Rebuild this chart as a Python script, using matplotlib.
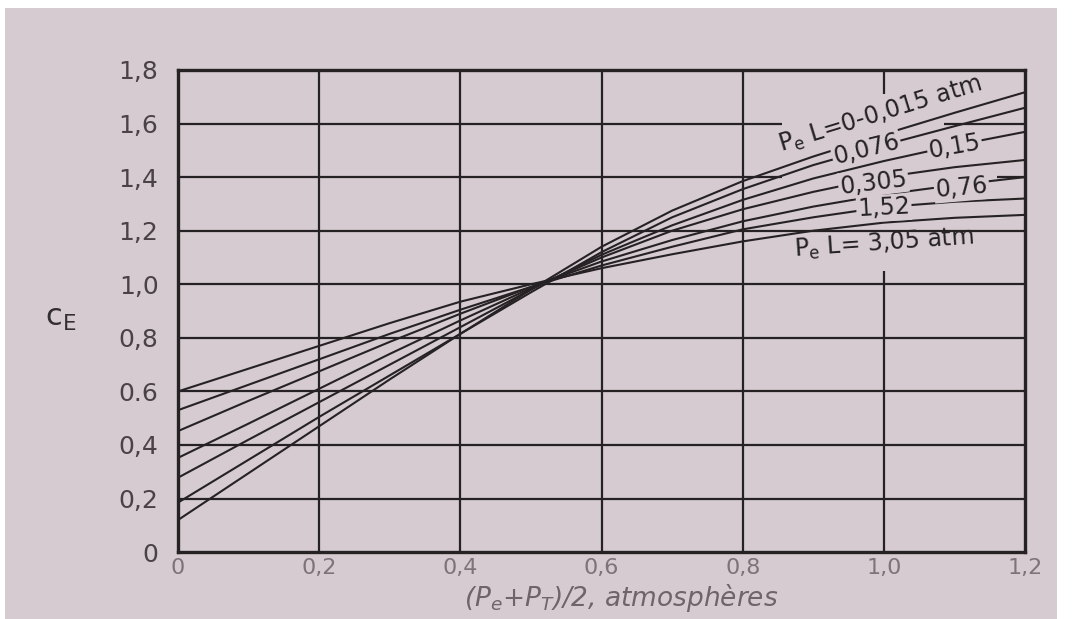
import matplotlib
matplotlib.use("Agg")
import matplotlib.pyplot as plt
from matplotlib.patches import Rectangle

# Mean pressure (P_e + P_T)/2, atm
pressure = [0.0, 0.1, 0.2, 0.3, 0.4, 0.5, 0.6, 0.7, 0.8, 0.9, 1.0, 1.1, 1.2]

# Correction factor C_E for each partial-pressure x path-length value
ce_pel_0 = [0.12, 0.295, 0.47, 0.645, 0.815, 0.98, 1.14, 1.275, 1.385, 1.477, 1.56, 1.64, 1.717]
ce_pel_0076 = [0.185, 0.345, 0.505, 0.66, 0.815, 0.97, 1.12, 1.25, 1.355, 1.445, 1.52, 1.59, 1.659]
ce_pel_015 = [0.278, 0.42, 0.56, 0.70, 0.84, 0.98, 1.11, 1.22, 1.315, 1.395, 1.46, 1.518, 1.569]
ce_pel_0305 = [0.352, 0.48, 0.61, 0.74, 0.865, 0.985, 1.10, 1.20, 1.28, 1.345, 1.40, 1.437, 1.464]
ce_pel_076 = [0.452, 0.565, 0.675, 0.785, 0.89, 0.99, 1.085, 1.165, 1.235, 1.29, 1.335, 1.37, 1.40]
ce_pel_152 = [0.53, 0.625, 0.72, 0.815, 0.905, 0.99, 1.07, 1.14, 1.205, 1.25, 1.288, 1.308, 1.32]
ce_pel_305 = [0.60, 0.685, 0.77, 0.855, 0.935, 1.0, 1.06, 1.112, 1.16, 1.20, 1.23, 1.248, 1.259]

x_ticks = [0.0, 0.2, 0.4, 0.6, 0.8, 1.0, 1.2]
x_tick_labels = ["0", "0,2", "0,4", "0,6", "0,8", "1,0", "1,2"]
y_ticks = [0.0, 0.2, 0.4, 0.6, 0.8, 1.0, 1.2, 1.4, 1.6, 1.8]
y_tick_labels = ["0", "0,2", "0,4", "0.6", "0,8", "1,0", "1,2", "1,4", "1,6", "1,8"]

PAPER = "#d5cbd0"
INK = "#262224"

fig = plt.figure(figsize=(10.75, 6.19), dpi=100, facecolor="white")
fig.patches.append(Rectangle((0.005, 0.0), 0.978, 0.987, transform=fig.transFigure,
                             facecolor=PAPER, edgecolor="none", zorder=-10))

ax = fig.add_axes([0.1656, 0.108, 0.788, 0.779])
ax.set_facecolor(PAPER)
ax.set_xlim(0, 1.2)
ax.set_ylim(0, 1.8)

# grid: full lines, with gaps where the curve labels sit
for y in y_ticks[1:-1]:
    if y == 1.6:
        ax.hlines(y, 0, 0.855, color=INK, lw=1.6, zorder=1)
        ax.hlines(y, 1.085, 1.2, color=INK, lw=1.6, zorder=1)
    elif y == 1.4:
        ax.hlines(y, 0, 0.855, color=INK, lw=1.6, zorder=1)
        ax.hlines(y, 1.16, 1.2, color=INK, lw=1.6, zorder=1)
    else:
        ax.hlines(y, 0, 1.2, color=INK, lw=1.6, zorder=1)
for x in x_ticks[1:-1]:
    if x == 1.0:
        ax.vlines(x, 0, 1.05, color=INK, lw=1.6, zorder=1)
        ax.vlines(x, 1.71, 1.8, color=INK, lw=1.6, zorder=1)
    else:
        ax.vlines(x, 0, 1.8, color=INK, lw=1.6, zorder=1)

curves = [ce_pel_0, ce_pel_0076, ce_pel_015, ce_pel_0305, ce_pel_076, ce_pel_152, ce_pel_305]
for ce in curves:
    ax.plot(pressure, ce, color=INK, lw=1.5, zorder=2, solid_capstyle="butt",
            solid_joinstyle="round")

box = dict(facecolor=PAPER, edgecolor="none", pad=1.0)
lab_kw = dict(color=INK, ha="center", va="center", zorder=3, fontsize=17,
              rotation_mode="anchor")
ax.text(0.995, 1.635, r"$\mathregular{P_e}$ L=0-0,015 atm", rotation=17, **lab_kw)
ax.text(0.975, 1.505, "0,076", rotation=14, bbox=box, **lab_kw)
ax.text(1.10, 1.515, "0,15", rotation=10, bbox=box, **lab_kw)
ax.text(0.985, 1.38, "0,305", rotation=7, bbox=box, **lab_kw)
ax.text(1.11, 1.36, "0,76", rotation=5, bbox=box, **lab_kw)
ax.text(1.0, 1.285, "1,52", rotation=3, bbox=box, **lab_kw)
ax.text(1.0, 1.15, r"$\mathregular{P_e}$ L= 3,05 atm", rotation=4, **lab_kw)

for side in ("left", "right", "top", "bottom"):
    ax.spines[side].set_linewidth(2.4)
    ax.spines[side].set_color(INK)
    ax.spines[side].set_zorder(4)

ax.set_xticks(x_ticks)
ax.set_xticklabels(x_tick_labels)
ax.set_yticks(y_ticks)
ax.set_yticklabels(y_tick_labels)
ax.tick_params(axis="both", length=0)
ax.tick_params(axis="y", pad=14, labelsize=18, labelcolor="#4a4247")
ax.tick_params(axis="x", pad=4, labelsize=16, labelcolor="#7d7378")

fig.text(0.056, 0.486, r"$\mathregular{c_E}$", fontsize=22, color="#332e31",
         ha="center", va="center")
fig.text(0.578, 0.034, r"($P_e$+$P_T$)/2, atmosphères", fontsize=19, style="italic",
         color="#6e6469", ha="center", va="center")

fig.savefig("out.png", dpi=100, facecolor="white")
